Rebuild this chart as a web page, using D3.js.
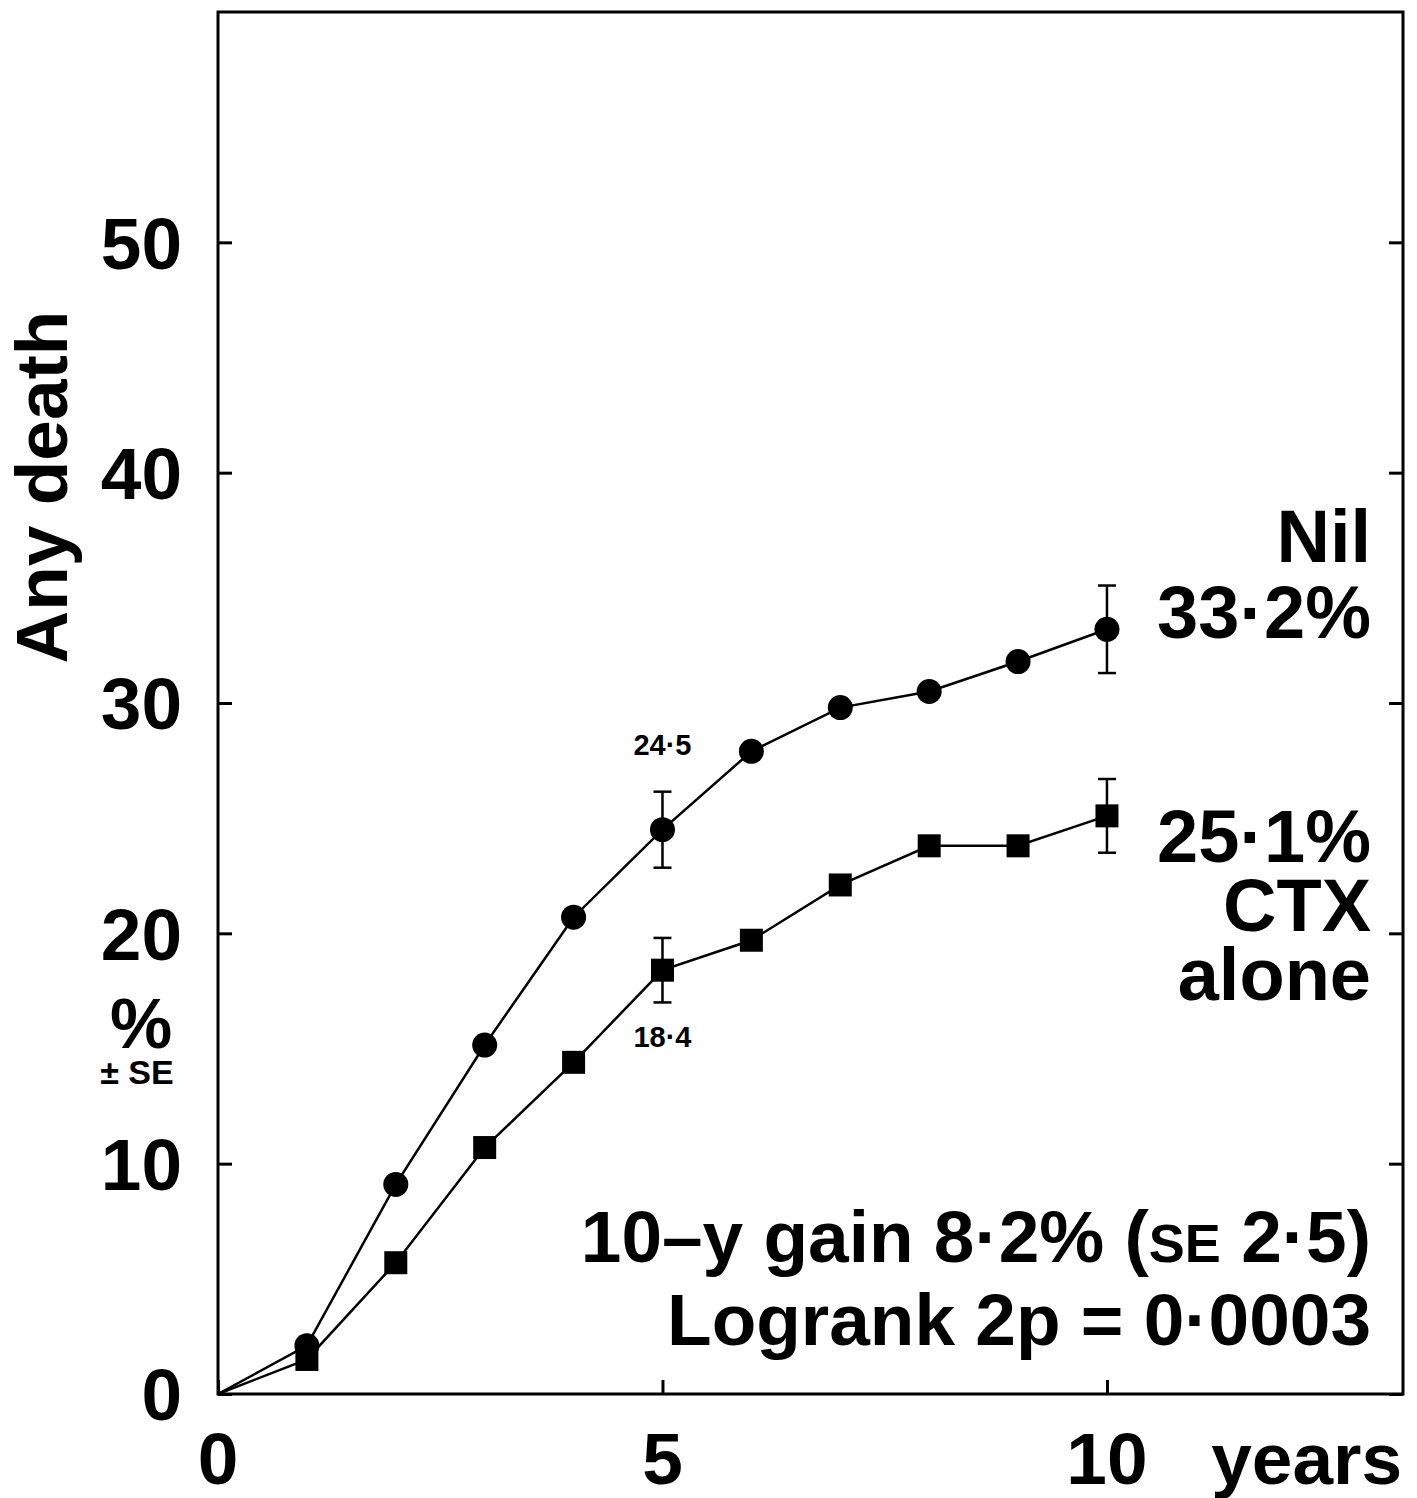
<!DOCTYPE html>
<html>
<head>
<meta charset="utf-8">
<script src="https://cdn.jsdelivr.net/npm/d3@7"></script>
<style>
  html, body { margin: 0; padding: 0; background: #fff; }
  svg text { font-family: "Liberation Sans", Arial, Helvetica, sans-serif; font-weight: bold; fill: #000; }
</style>
</head>
<body>
<svg id="chart" width="1417" height="1498"></svg>
<script>
// ---- data ----
const years = [0, 1, 2, 3, 4, 5, 6, 7, 8, 9, 10];
const nilValues = [0, 2.1, 9.1, 15.15, 20.7, 24.5, 27.9, 29.8, 30.5, 31.8, 33.2];
const ctxValues = [0, 1.5, 5.7, 10.7, 14.4, 18.4, 19.7, 22.1, 23.8, 23.8, 25.1];
const nilErrors = [{ year: 5, value: 24.5, se: 1.65 }, { year: 10, value: 33.2, se: 1.9 }];
const ctxErrors = [{ year: 5, value: 18.4, se: 1.4 }, { year: 10, value: 25.1, se: 1.6 }];
const yTicks = [0, 10, 20, 30, 40, 50];
const xTicks = [0, 5, 10];
const xDomain = [0, 13.33];
const yDomain = [0, 60];

// ---- layout ----
const svg = d3.select("#chart");
const mLeft = 218, mRight = 1403, mTop = 12, mBottom = 1394;
const x = d3.scaleLinear().domain(xDomain).range([mLeft, mRight]);
const y = d3.scaleLinear().domain(yDomain).range([mBottom, mTop]);

// frame
svg.append("rect")
  .attr("x", mLeft).attr("y", mTop)
  .attr("width", mRight - mLeft).attr("height", mBottom - mTop)
  .attr("fill", "none").attr("stroke", "#000").attr("stroke-width", 3);

// axes (inward ticks)
const gyl = svg.append("g").attr("transform", `translate(${mLeft},0)`)
  .call(d3.axisRight(y).tickValues(yTicks).tickSize(14).tickFormat(""));
const gyr = svg.append("g").attr("transform", `translate(${mRight},0)`)
  .call(d3.axisLeft(y).tickValues(yTicks).tickSize(14).tickFormat(""));
const gxb = svg.append("g").attr("transform", `translate(0,${mBottom})`)
  .call(d3.axisTop(x).tickValues(xTicks).tickSize(14).tickFormat(""));
[gyl, gyr, gxb].forEach(g => {
  g.select(".domain").remove();
  g.selectAll(".tick line").attr("stroke", "#000").attr("stroke-width", 3);
});

// y tick labels
svg.append("g").selectAll("text").data(yTicks).join("text")
  .attr("x", 182).attr("y", d => y(d))
  .attr("dy", "0.36em")
  .attr("text-anchor", "end")
  .attr("font-size", 73)
  .text(d => d);

// x tick labels
svg.append("g").selectAll("text").data(xTicks).join("text")
  .attr("x", d => x(d)).attr("y", 1484)
  .attr("text-anchor", "middle")
  .attr("font-size", 73)
  .text(d => d);

svg.append("text").attr("x", 1402).attr("y", 1484)
  .attr("text-anchor", "end").attr("font-size", 73).text("years");

// y axis title
svg.append("text")
  .attr("transform", "translate(67,487) rotate(-90)")
  .attr("text-anchor", "middle")
  .attr("font-size", 73)
  .text("Any death");

svg.append("text").attr("x", 141).attr("y", 1048)
  .attr("text-anchor", "middle").attr("font-size", 70).text("%");
svg.append("text").attr("x", 137).attr("y", 1084)
  .attr("text-anchor", "middle").attr("font-size", 34).text("± SE");

// lines
const line = d3.line().x((d, i) => x(years[i])).y(d => y(d));
svg.append("path").datum(nilValues).attr("d", line)
  .attr("fill", "none").attr("stroke", "#000").attr("stroke-width", 2.5);
svg.append("path").datum(ctxValues).attr("d", line)
  .attr("fill", "none").attr("stroke", "#000").attr("stroke-width", 2.5);

// error bars
function errBars(data) {
  const g = svg.append("g").attr("stroke", "#000").attr("stroke-width", 2.5);
  data.forEach(e => {
    const cx = x(e.year);
    g.append("line").attr("x1", cx).attr("x2", cx).attr("y1", y(e.value + e.se)).attr("y2", y(e.value - e.se));
    g.append("line").attr("x1", cx - 9).attr("x2", cx + 9).attr("y1", y(e.value + e.se)).attr("y2", y(e.value + e.se));
    g.append("line").attr("x1", cx - 9).attr("x2", cx + 9).attr("y1", y(e.value - e.se)).attr("y2", y(e.value - e.se));
  });
}
errBars(nilErrors);
errBars(ctxErrors);

// markers (skip year 0)
const nilPts = years.map((yr, i) => ({ yr, v: nilValues[i] })).filter(d => d.yr > 0);
const ctxPts = years.map((yr, i) => ({ yr, v: ctxValues[i] })).filter(d => d.yr > 0);
svg.append("g").selectAll("rect").data(ctxPts).join("rect")
  .attr("x", d => x(d.yr) - 11.5).attr("y", d => y(d.v) - 11.5)
  .attr("width", 23).attr("height", 23).attr("fill", "#000");
svg.append("g").selectAll("circle").data(nilPts).join("circle")
  .attr("cx", d => x(d.yr)).attr("cy", d => y(d.v)).attr("r", 12.5).attr("fill", "#000");

// point labels
svg.append("text").attr("x", x(5)).attr("y", 755).attr("text-anchor", "middle").attr("font-size", 29).text("24·5");
svg.append("text").attr("x", x(5)).attr("y", 1047).attr("text-anchor", "middle").attr("font-size", 29).text("18·4");

// right labels
const rx = 1371;
[["Nil", 562], ["33·2%", 638], ["25·1%", 862], ["CTX", 931], ["alone", 1000]].forEach(([t, yy]) => {
  svg.append("text").attr("x", rx).attr("y", yy).attr("text-anchor", "end").attr("font-size", 74).text(t);
});

// bottom-right annotations
const t1 = svg.append("text").attr("x", rx).attr("y", 1262).attr("text-anchor", "end").attr("font-size", 73);
t1.append("tspan").text("10–y gain 8·2% (");
t1.append("tspan").attr("font-size", 54).text("SE");
t1.append("tspan").text(" 2·5)");
svg.append("text").attr("x", rx).attr("y", 1345).attr("text-anchor", "end").attr("font-size", 73)
  .text("Logrank 2p = 0·0003");
</script>
</body>
</html>
